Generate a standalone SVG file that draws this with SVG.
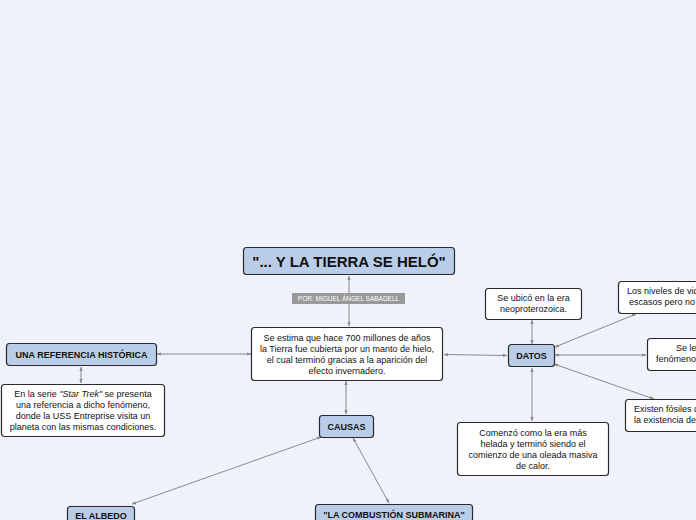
<svg xmlns="http://www.w3.org/2000/svg" width="696" height="520" viewBox="0 0 696 520">
<defs>
<marker id="ah" viewBox="0 0 6 6" refX="5.5" refY="3" markerWidth="4.5" markerHeight="4.5" orient="auto-start-reverse" markerUnits="userSpaceOnUse">
<path d="M0,0.8 L6,3 L0,5.2 z" fill="#8a8a8a"/>
</marker>
<style>
.bg{fill:#eff1fb}
.blue{fill:#bacde8;stroke:#2a2a2a;stroke-width:1.2}
.white{fill:#ffffff;stroke:#2a2a2a;stroke-width:1.2}
.t{font-family:"Liberation Sans",Arial,sans-serif;font-size:9px;fill:#111;text-anchor:middle}
.b{font-weight:bold}
.c{fill:none;stroke:#8a8a8a;stroke-width:1;marker-start:url(#ah);marker-end:url(#ah)}
</style>
</defs>
<rect class="bg" x="0" y="0" width="696" height="520"/>
<g id="connectors">
<line class="c" x1="349" y1="276" x2="349" y2="326"/>
<line class="c" x1="251" y1="354" x2="157" y2="354"/>
<line class="c" x1="81" y1="367" x2="81" y2="383"/>
<line class="c" x1="444" y1="354.5" x2="507" y2="355.5"/>
<line class="c" x1="532" y1="344" x2="532" y2="320"/>
<line class="c" x1="555" y1="347" x2="636" y2="314"/>
<line class="c" x1="555" y1="355" x2="646" y2="355"/>
<line class="c" x1="554" y1="364" x2="654" y2="399"/>
<line class="c" x1="532" y1="368" x2="532" y2="421"/>
<line class="c" x1="346" y1="381" x2="346" y2="414"/>
<line class="c" x1="321" y1="437" x2="132" y2="504"/>
<line class="c" x1="353" y1="438" x2="389" y2="503"/>
</g>
<g id="title">
<rect class="blue" x="243.5" y="247.5" width="211" height="27" rx="3"/>
<text class="t b" x="349" y="266.5" style="font-size:15px">"... Y LA TIERRA SE HELÓ"</text>
</g>
<g id="author">
<rect x="292" y="293" width="113" height="11" fill="#999999"/>
<text class="t" x="348.5" y="301" style="font-size:6.5px;fill:#ffffff">POR: MIGUEL ÁNGEL SABADELL</text>
</g>
<g id="main">
<rect class="white" x="251.5" y="327.5" width="191" height="53" rx="3"/>
<text class="t" x="347" y="340.5">Se estima que hace 700 millones de años</text>
<text class="t" x="347" y="351.5">la Tierra fue cubierta por un manto de hielo,</text>
<text class="t" x="347" y="362.5">el cual terminó gracias a la aparición del</text>
<text class="t" x="347" y="373.5">efecto invernadero.</text>
</g>
<g id="referencia">
<rect class="blue" x="6.5" y="343.5" width="150" height="22" rx="3"/>
<text class="t b" x="81.5" y="357.5">UNA REFERENCIA HISTÓRICA</text>
</g>
<g id="startrek">
<rect class="white" x="1.5" y="384.5" width="163" height="52" rx="3"/>
<text class="t" x="83" y="397">En la serie <tspan font-style="italic">"Star Trek"</tspan> se presenta</text>
<text class="t" x="83" y="408">una referencia a dicho fenómeno,</text>
<text class="t" x="83" y="419">donde la USS Entreprise visita un</text>
<text class="t" x="83" y="430">planeta con las mismas condiciones.</text>
</g>
<g id="datos">
<rect class="blue" x="508.5" y="344.5" width="46" height="22" rx="3"/>
<text class="t b" x="531.5" y="358.5">DATOS</text>
</g>
<g id="era">
<rect class="white" x="485.5" y="288.5" width="96" height="31" rx="3"/>
<text class="t" x="533.5" y="301">Se ubicó en la era</text>
<text class="t" x="533.5" y="312">neoproterozoica.</text>
</g>
<g id="niveles">
<rect class="white" x="618.5" y="281.5" width="90" height="32" rx="3"/>
<text class="t" x="627" y="294" style="text-anchor:start">Los niveles de vid</text>
<text class="t" x="629" y="305" style="text-anchor:start">escasos pero no</text>
</g>
<g id="sele">
<rect class="white" x="647.5" y="338.5" width="60" height="32" rx="3"/>
<text class="t" x="676" y="351" style="text-anchor:start">Se le</text>
<text class="t" x="656" y="362" style="text-anchor:start">fenómeno</text>
</g>
<g id="fosiles">
<rect class="white" x="625.5" y="399.5" width="80" height="32" rx="3"/>
<text class="t" x="634" y="412" style="text-anchor:start">Existen fósiles d</text>
<text class="t" x="634" y="423" style="text-anchor:start">la existencia de</text>
</g>
<g id="comenzo">
<rect class="white" x="457.5" y="422.5" width="151" height="53" rx="3"/>
<text class="t" x="533" y="435.5">Comenzó como la era más</text>
<text class="t" x="533" y="446.5">helada y terminó siendo el</text>
<text class="t" x="533" y="457.5">comienzo de una oleada masiva</text>
<text class="t" x="533" y="468.5">de calor.</text>
</g>
<g id="causas">
<rect class="blue" x="319.5" y="415.5" width="54" height="22" rx="3"/>
<text class="t b" x="346.5" y="429.5">CAUSAS</text>
</g>
<g id="albedo">
<rect class="blue" x="67.5" y="506.5" width="67" height="22" rx="3"/>
<text class="t b" x="101" y="519">EL ALBEDO</text>
</g>
<g id="combustion">
<rect class="blue" x="315.5" y="504.5" width="157" height="22" rx="3"/>
<text class="t b" x="394" y="517.5">"LA COMBUSTIÓN SUBMARINA"</text>
</g>
</svg>
